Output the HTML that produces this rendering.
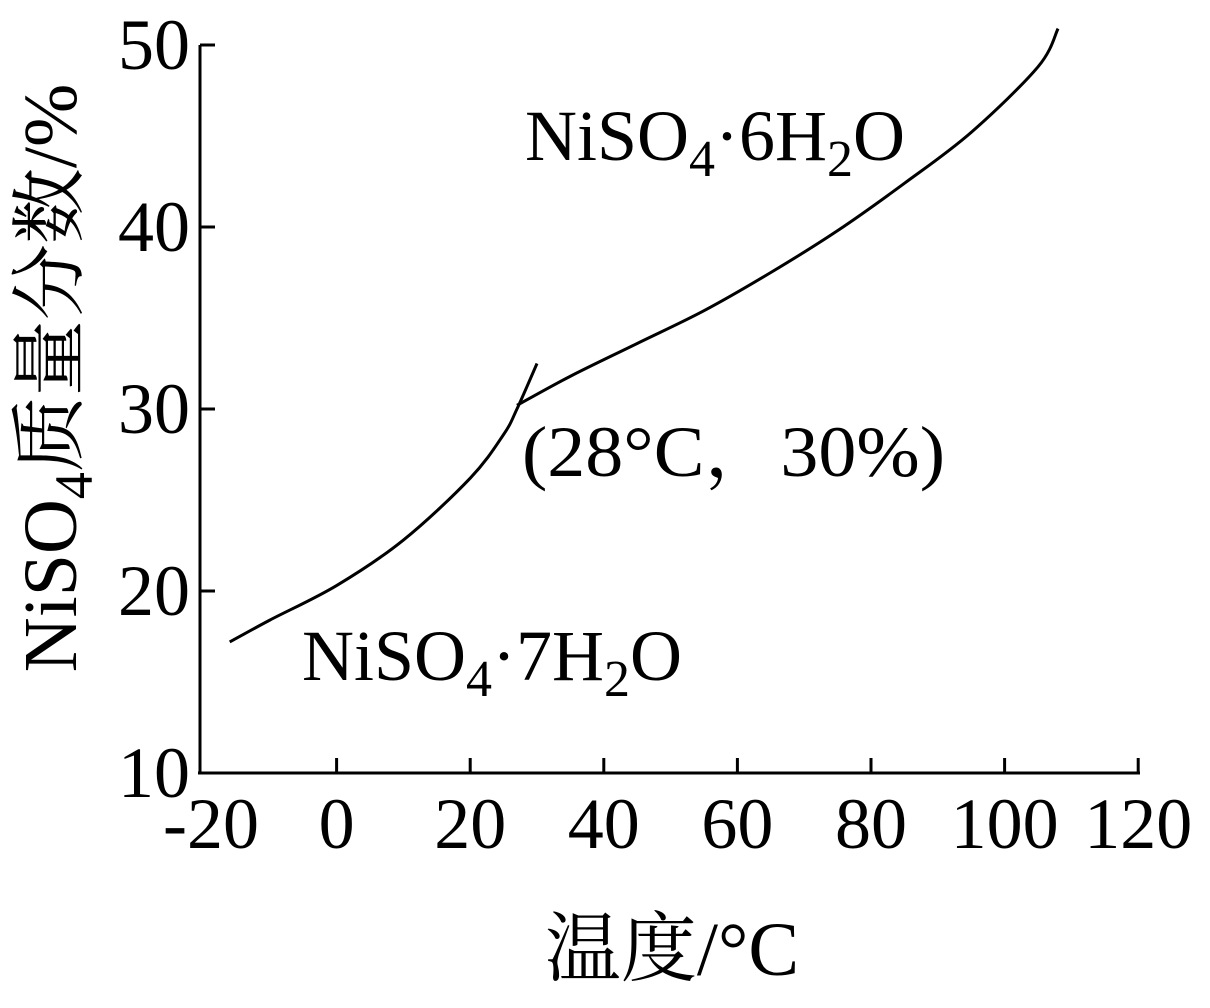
<!DOCTYPE html>
<html><head><meta charset="utf-8"><style>
body{margin:0;background:#fff}
svg text{font-family:"Liberation Serif","Noto Serif CJK SC",serif;fill:#000}
</style></head><body>
<svg id="chart" width="1210" height="1003" viewBox="0 0 1210 1003">
<g id="axes"></g><g id="series"></g>
<text x="525" y="160" font-size="72">NiSO<tspan font-size="52" dy="16">4</tspan><tspan dy="-16">·6H</tspan><tspan font-size="52" dy="16">2</tspan><tspan dy="-16">O</tspan></text>
<text x="302" y="680" font-size="72">NiSO<tspan font-size="52" dy="16">4</tspan><tspan dy="-16">·7H</tspan><tspan font-size="52" dy="16">2</tspan><tspan dy="-16">O</tspan></text>
<text x="522" y="476" font-size="72" textLength="423" lengthAdjust="spacingAndGlyphs">(28°C，30%)</text>
<text x="672" y="975" font-size="76" text-anchor="middle">温度/°C</text>
<text transform="translate(76,378) rotate(-90)" font-size="76" text-anchor="middle">NiSO<tspan font-size="54" dy="16">4</tspan><tspan dy="-16">质量分数/%</tspan></text>
</svg>
<script>
const xTicks=[-20,0,20,40,60,80,100,120];
const yTicks=[10,20,30,40,50];
const hepta_T=[-16,-10,0,10,20,25,27,30];
const hepta_W=[17.2,18.4,20.3,22.8,26.2,28.6,30.0,32.5];
const hexa_T=[27,35,45,55,65,75,85,95,105,108];
const hexa_W=[30.2,31.8,33.6,35.4,37.5,39.8,42.4,45.2,48.8,50.9];
const NS="http://www.w3.org/2000/svg";
const X=v=>336.6+(v)*6.68, Y=v=>773-(v-10)*18.2;
const ax=document.getElementById('axes'), se=document.getElementById('series');
function mk(t,a,p){const e=document.createElementNS(NS,t);for(const k in a)e.setAttribute(k,a[k]);p.appendChild(e);return e;}
let l=mk('line',{x1:200,y1:45,x2:200,y2:774,stroke:'#000','stroke-width':3},ax);


l=mk('line',{x1:198,y1:773,x2:1140,y2:773,stroke:'#000','stroke-width':3},ax);


xTicks.forEach(v=>{const x=v==-20?200:X(v);
 if(v>-20){const t=mk('line',{x1:x,y1:773,x2:x,y2:758,stroke:'#000','stroke-width':3},ax);
 
 }
 const tx=mk('text',{x:X(v)+(v==-20?8:0),y:848,'font-size':72,'text-anchor':'middle'},ax);tx.textContent=v;
 
 });
yTicks.forEach(v=>{const y=Y(v);
 const t=mk('line',{x1:200,y1:y,x2:215,y2:y,stroke:'#000','stroke-width':3},ax);
 
 
 const tx=mk('text',{x:190,y:y+24,'font-size':72,'text-anchor':'end'},ax);tx.textContent=v;
 
 });
function path(T,W){let d='';const p=T.map((t,i)=>[X(t),Y(W[i])]);
 d='M'+p[0];for(let i=0;i<p.length-1;i++){const p0=p[i-1]||p[i],p1=p[i],p2=p[i+1],p3=p[i+2]||p2;
 d+=` C${p1[0]+(p2[0]-p0[0])/6},${p1[1]+(p2[1]-p0[1])/6} ${p2[0]-(p3[0]-p1[0])/6},${p2[1]-(p3[1]-p1[1])/6} ${p2[0]},${p2[1]}`;}return d;}
let c=mk('path',{d:path(hepta_T,hepta_W),fill:'none',stroke:'#000','stroke-width':3},se);


c=mk('path',{d:path(hexa_T,hexa_W),fill:'none',stroke:'#000','stroke-width':3},se);


</script>
</body></html>
